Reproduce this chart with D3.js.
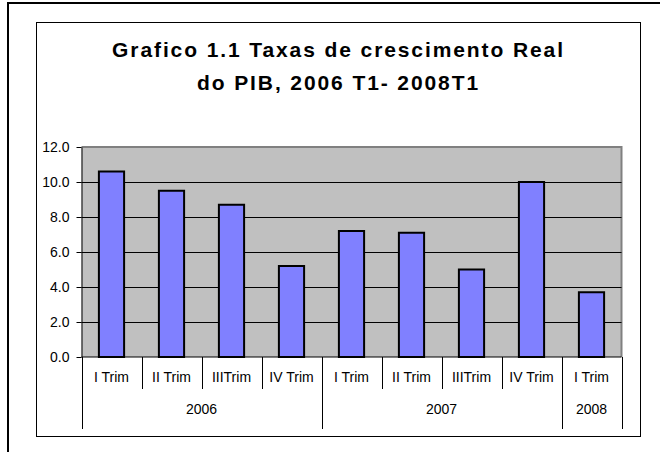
<!DOCTYPE html>
<html>
<head>
<meta charset="utf-8">
<script src="https://cdn.jsdelivr.net/npm/d3@7"></script>
<style>
  body { margin: 0; background: #fff; }
  svg { display: block; font-family: "Liberation Sans", Arial, sans-serif; }
</style>
</head>
<body>
<svg id="chart" width="660" height="452"></svg>
<script>
// values
const quarters = ['I Trim', 'II Trim', 'IIITrim', 'IV Trim', 'I Trim', 'II Trim', 'IIITrim', 'IV Trim', 'I Trim'];
const yearOfBar = ['2006', '2006', '2006', '2006', '2007', '2007', '2007', '2007', '2008'];
const growth = [10.6, 9.5, 8.7, 5.2, 7.2, 7.1, 5.0, 10.0, 3.7];
const yTicks = [0, 2, 4, 6, 8, 10, 12];
const titleLines = ['Grafico 1.1 Taxas de crescimento Real', 'do PIB, 2006 T1- 2008T1'];

function drawChart() {
  const svg = d3.select('svg#chart');
  const font = '"Liberation Sans", Arial, sans-serif';

  const plotLeft = 81.5;
  const plotRight = 621.5;
  const plotTop = 147;
  const plotBottom = 357;

  // outer frame and chart box
  svg.append('rect')
    .attr('x', 8).attr('y', 3)
    .attr('width', 700).attr('height', 500)
    .attr('fill', '#fff')
    .attr('stroke', '#000')
    .attr('stroke-width', 2);

  svg.append('rect')
    .attr('x', 36.5).attr('y', 22.5)
    .attr('width', 604).attr('height', 414)
    .attr('fill', '#fff')
    .attr('stroke', '#000')
    .attr('stroke-width', 1);

  // title
  svg.selectAll('text.title').data(titleLines)
    .enter()
    .append('text')
    .attr('class', 'title')
    .attr('x', 338.5)
    .attr('y', (d, i) => 57 + i * 33)
    .attr('text-anchor', 'middle')
    .attr('font-family', font)
    .attr('font-size', '21px')
    .attr('font-weight', 'bold')
    .attr('letter-spacing', '1.9px')
    .text((d) => d);

  const x = d3.scaleBand()
    .domain(d3.range(growth.length))
    .range([plotLeft, plotRight])
    .paddingInner(0.58)
    .paddingOuter(0.29);

  const y = d3.scaleLinear()
    .domain([0, 12])
    .range([plotBottom, plotTop]);

  // plot area
  svg.append('rect')
    .attr('x', plotLeft).attr('y', plotTop)
    .attr('width', plotRight - plotLeft)
    .attr('height', plotBottom - plotTop)
    .attr('fill', '#c0c0c0');

  svg.append('path')
    .attr('d', `M${plotLeft},${plotTop}H${plotRight}V${plotBottom}`)
    .attr('fill', 'none')
    .attr('stroke', '#808080')
    .attr('stroke-width', 2);

  // gridlines
  svg.selectAll('line.grid').data(yTicks.filter((t) => t > 0 && t < 12))
    .enter()
    .append('line')
    .attr('class', 'grid')
    .attr('x1', plotLeft).attr('x2', plotRight)
    .attr('y1', (d) => Math.round(y(d)) + 0.5)
    .attr('y2', (d) => Math.round(y(d)) + 0.5)
    .attr('stroke', '#000')
    .attr('stroke-width', 1);

  // bars
  svg.selectAll('rect.bar').data(growth)
    .enter()
    .append('rect')
    .attr('class', 'bar')
    .attr('x', (d, i) => x(i))
    .attr('y', (d) => y(d))
    .attr('width', x.bandwidth())
    .attr('height', (d) => y(0) - y(d))
    .attr('fill', '#8080ff')
    .attr('stroke', '#000')
    .attr('stroke-width', 2);

  // y axis
  const yAxis = svg.append('g')
    .attr('transform', `translate(${plotLeft},0)`)
    .call(d3.axisLeft(y)
      .tickValues(yTicks)
      .tickFormat(d3.format('.1f'))
      .tickSize(5)
      .tickSizeOuter(0)
      .tickPadding(7));
  yAxis.select('.domain').attr('stroke', '#000');
  yAxis.selectAll('.tick line').attr('stroke', '#000');
  yAxis.selectAll('.tick text')
    .attr('font-size', '14px')
    .attr('font-family', font)
    .attr('fill', '#000');

  // x axis line
  svg.append('line')
    .attr('x1', plotLeft).attr('x2', plotRight)
    .attr('y1', plotBottom).attr('y2', plotBottom)
    .attr('stroke', '#000');

  // category dividers: short ones between quarters, long ones between years
  const step = x.step();
  const edges = d3.range(growth.length + 1);
  svg.selectAll('line.divider').data(edges)
    .enter()
    .append('line')
    .attr('class', 'divider')
    .attr('x1', (i) => Math.round(plotLeft + i * step) + 0.5)
    .attr('x2', (i) => Math.round(plotLeft + i * step) + 0.5)
    .attr('y1', plotBottom)
    .attr('y2', (i) => {
      const newYear = i === 0 || i === growth.length || yearOfBar[i] !== yearOfBar[i - 1];
      return newYear ? 429 : 389;
    })
    .attr('stroke', '#000')
    .attr('stroke-width', 1);

  svg.selectAll('text.quarter').data(quarters)
    .enter()
    .append('text')
    .attr('class', 'quarter')
    .attr('x', (d, i) => x(i) + x.bandwidth() / 2)
    .attr('y', 382)
    .attr('text-anchor', 'middle')
    .attr('font-family', font)
    .attr('font-size', '14px')
    .text((d) => d);

  const yearGroups = d3.groups(d3.range(growth.length), (i) => yearOfBar[i]);
  svg.selectAll('text.year').data(yearGroups)
    .enter()
    .append('text')
    .attr('class', 'year')
    .attr('x', (d) => plotLeft + (d3.min(d[1]) + d3.max(d[1]) + 1) / 2 * step)
    .attr('y', 414)
    .attr('text-anchor', 'middle')
    .attr('font-family', font)
    .attr('font-size', '14px')
    .text((d) => d[0]);
}

drawChart();
</script>
</body>
</html>
